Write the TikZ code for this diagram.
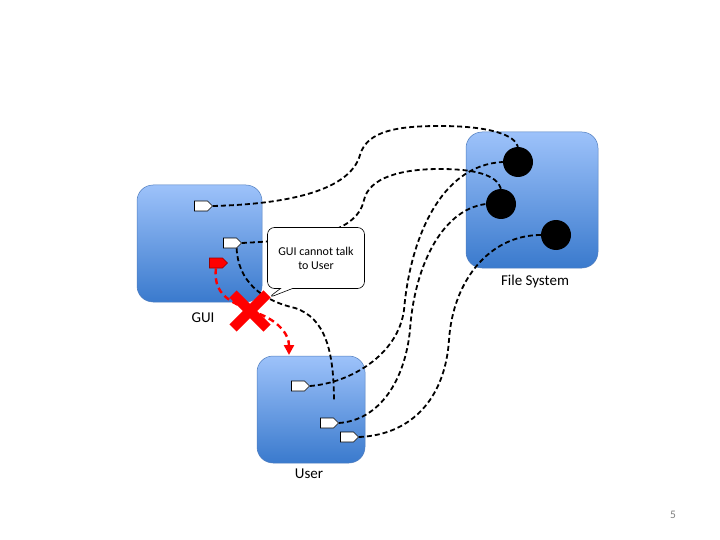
\documentclass[tikz,border=0pt]{standalone}
\usepackage{fontspec}
\setmainfont{Carlito}
\usetikzlibrary{arrows.meta,shapes.symbols,shapes.callouts}

\definecolor{boxtop}{RGB}{157,194,250}
\definecolor{boxbot}{RGB}{58,122,205}
\definecolor{boxedge}{RGB}{80,125,190}

\begin{document}
\begin{tikzpicture}[x=1pt, y=-1pt,
    comp/.style={draw=boxedge, line width=0.5pt, rounded corners=16pt, top color=boxtop, bottom color=boxbot, inner sep=0pt},
    port/.style={signal, signal to=east, draw=black, line width=0.6pt, fill=white, minimum width=18pt, minimum height=10pt, inner sep=0pt},
    hole/.style={circle, fill=black, minimum size=30pt, inner sep=0pt},
    wire/.style={line width=1.8pt, dash pattern=on 5pt off 3pt},
    lbl/.style={font=\fontsize{15}{17}\selectfont}]
  \useasboundingbox (0,0) rectangle (720,540);

  % components
  \node[comp, minimum width=125pt, minimum height=117pt] (gui) at (199.5,243.5) {};
  \node[comp, minimum width=132pt, minimum height=136pt] (fs) at (532,200) {};
  \node[comp, minimum width=108pt, minimum height=107pt] (user) at (311,409.5) {};

  \node[lbl] (guilbl) at (203,318) {GUI};
  \node[lbl] (fslbl) at (535,282) {File System};
  \node[lbl] (userlbl) at (309,474) {User};

  % ports
  \node[port] (guiA) at (201,206) {};
  \node[port] (guiB) at (230,243) {};
  \node[port, fill=red, draw=red!60!black] (guiR) at (216,263) {};
  \node[port] (userA) at (298,386) {};
  \node[port] (userB) at (327,423) {};
  \node[port] (userC) at (347,437) {};

  \node[hole] (fsA) at (518,162) {};
  \node[hole] (fsB) at (501,204) {};
  \node[hole] (fsC) at (556,235) {};

  \coordinate (loose) at (334,402);
  \coordinate (redtip) at (289,355);

  % wires
  \draw[wire] (guiA.east) .. controls (290,204) and (350,190) .. (360,155)
    .. controls (367,130) and (400,126) .. (440,126)
    .. controls (490,126) and (515,135) .. (fsA.north);
  \draw[wire] (guiB.east) .. controls (300,240) and (356,236) .. (364,200)
    .. controls (369,178) and (400,169) .. (440,169)
    .. controls (475,169) and (497,175) .. (fsB.north);
  \draw[wire] (guiB.south east) .. controls (238,280) and (260,300) .. (295,308)
    .. controls (325,318) and (334,350) .. (loose);
  \draw[wire] (userA.east) .. controls (350,383) and (398,355) .. (404,310)
    .. controls (410,240) and (440,165) .. (fsA.west);
  \draw[wire] (userB.east) .. controls (380,420) and (405,380) .. (410,330)
    .. controls (414,270) and (440,210) .. (fsB.west);
  \draw[wire] (userC.east) .. controls (410,435) and (445,400) .. (449,340)
    .. controls (453,280) and (490,235) .. (fsC.west);

  % blocked call
  \draw[red, line width=2.4pt, dash pattern=on 6pt off 4pt, -{Triangle[length=10pt, width=10pt]}]
    (guiR.south) .. controls (212,300) and (240,305) .. (262,315)
    .. controls (280,323) and (289,335) .. (redtip);

  \node[rectangle callout, rounded corners=7pt, draw, fill=white, line width=0.6pt,
    minimum width=97pt, minimum height=61pt, align=center, callout pointer width=12pt,
    callout absolute pointer={(268,298)}, font=\fontsize{12}{14}\selectfont]
    (note) at (316,258) {GUI cannot talk\\to User};

  \node[inner sep=0pt] (cross) at (250,311) {};
  \draw[red, line width=10pt] ([shift={(-17,-17)}]cross.center) -- ([shift={(17,17)}]cross.center);
  \draw[red, line width=10pt] ([shift={(17,-17)}]cross.center) -- ([shift={(-17,17)}]cross.center);

  \node[text=gray, font=\fontsize{11.5}{13}\selectfont] (page) at (673,515) {5};
\end{tikzpicture}
\end{document}
